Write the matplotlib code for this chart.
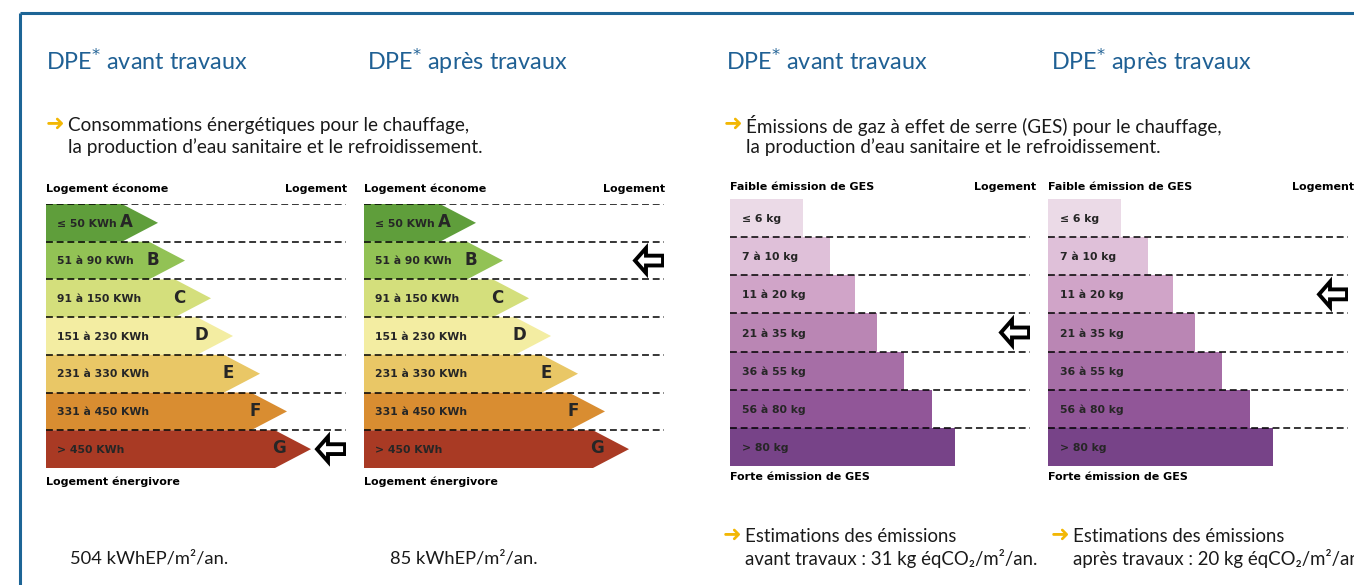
import matplotlib
matplotlib.use("Agg")
import matplotlib.pyplot as plt
from matplotlib.patches import Polygon, Rectangle
import numpy as np

# --- data ---
energy_classes = ["A", "B", "C", "D", "E", "F", "G"]
energy_ranges = ["≤ 50 KWh", "51 à 90 KWh", "91 à 150 KWh", "151 à 230 KWh",
                 "231 à 330 KWh", "331 à 450 KWh", "> 450 KWh"]
energy_upper = [50, 90, 150, 230, 330, 450, np.inf]
energy_bar_len = [112, 139, 165, 187, 214, 241, 265]
energy_colors = ["#5f9e3b", "#92c255", "#d4df7c", "#f3eda2", "#e9c766", "#d98d31", "#a93a24"]

ges_ranges = ["≤ 6 kg", "7 à 10 kg", "11 à 20 kg", "21 à 35 kg",
              "36 à 55 kg", "56 à 80 kg", "> 80 kg"]
ges_upper = [6, 10, 20, 35, 55, 80, np.inf]
ges_bar_len = [73, 100, 125, 147, 174, 202, 225]
ges_colors = ["#ebdae7", "#dfc0d9", "#d0a4c8", "#ba86b4", "#a66ea6", "#915698", "#774388"]

energy_before, energy_after = 504, 85
ges_before, ges_after = 31, 20

titles = ["DPE$^{*}$ avant travaux", "DPE$^{*}$ après travaux"]

W, H = 1354, 585
BLUE = "#1f6094"
ORANGE = "#f2b705"
TXT = ["Lato", "DejaVu Sans"]

fig = plt.figure(figsize=(W / 100, H / 100), dpi=100)
bg = fig.add_axes([0, 0, 1, 1])
bg.set_xlim(0, W)
bg.set_ylim(H, 0)
bg.axis("off")

# blue frame
bg.plot([20, W], [13, 13], color="#1d6596", lw=2.2, solid_capstyle="butt")
bg.plot([20, 20], [13, H], color="#1d6596", lw=2.2, solid_capstyle="butt")


def px_axes(left, top, bottom, width=300):
    ax = fig.add_axes([left / W, (H - bottom) / H, width / W, (bottom - top) / H])
    ax.set_xlim(0, width)
    ax.set_ylim(7, 0)
    ax.axis("off")
    return ax


def row_of(value, uppers):
    return int(np.searchsorted(uppers, value))


def pointer(ax, row):
    yc = row + 0.5
    x0 = 271
    pts = [(x0, yc), (x0 + 11, yc - 0.33), (x0 + 11, yc - 0.13), (x0 + 28, yc - 0.13),
           (x0 + 28, yc + 0.13), (x0 + 11, yc + 0.13), (x0 + 11, yc + 0.33)]
    ax.add_patch(Polygon(pts, closed=True, fc="white", ec="black", lw=2.8,
                         joinstyle="miter", zorder=5))


def dashes(ax, rows):
    for r in rows:
        ax.plot([0, 300], [r, r], color="black", lw=1.1, ls=(0, (4.5, 2.5)), zorder=4)


def energy_chart(left, value):
    ax = px_axes(left, 204, 468)
    for i, (L, c) in enumerate(zip(energy_bar_len, energy_colors)):
        d = 36
        pts = [(0, i), (L - d, i), (L, i + 0.5), (L - d, i + 1), (0, i + 1)]
        ax.add_patch(Polygon(pts, closed=True, fc=c, ec="none", zorder=2))
        ax.text(11, i + 0.52, energy_ranges[i], ha="left", va="center",
                fontsize=7.8, fontweight="bold", color="#262626", zorder=3)
        ax.text(L - 32, i + 0.48, energy_classes[i], ha="center", va="center",
                fontsize=12, fontweight="bold", color="#262626", zorder=3)
    dashes(ax, range(0, 7))
    ax.text(0, -0.4, "Logement économe", ha="left", va="center", fontsize=8,
            fontweight="heavy", color="black", clip_on=False)
    ax.text(301, -0.4, "Logement", ha="right", va="center", fontsize=8,
            fontweight="heavy", color="black", clip_on=False)
    ax.text(0, 7.37, "Logement énergivore", ha="left", va="center", fontsize=8,
            fontweight="heavy", color="black", clip_on=False)
    pointer(ax, row_of(value, energy_upper))


def ges_chart(left, value):
    ax = px_axes(left, 199, 466)
    for i, (L, c) in enumerate(zip(ges_bar_len, ges_colors)):
        ax.add_patch(Rectangle((0, i), L, 1, fc=c, ec="none", zorder=2))
        ax.text(12, i + 0.52, ges_ranges[i], ha="left", va="center",
                fontsize=7.8, fontweight="bold", color="#262626", zorder=3)
    dashes(ax, range(1, 7))
    ax.text(0, -0.32, "Faible émission de GES", ha="left", va="center", fontsize=8,
            fontweight="heavy", color="black", clip_on=False)
    ax.text(306, -0.32, "Logement", ha="right", va="center", fontsize=8,
            fontweight="heavy", color="black", clip_on=False)
    ax.text(0, 7.29, "Forte émission de GES", ha="left", va="center", fontsize=8,
            fontweight="heavy", color="black", clip_on=False)
    pointer(ax, row_of(value, ges_upper))


energy_chart(46, energy_before)
energy_chart(364, energy_after)
ges_chart(730, ges_before)
ges_chart(1048, ges_after)

# titles
for x, t in zip([46, 367, 726, 1051], titles * 2):
    bg.text(x, 61, t, ha="left", va="center", fontsize=16.8, color=BLUE, family=TXT)


# subtitles
def arrow_text(x, y, lines, size=13.6):
    bg.text(x, y - 1, "➜", ha="left", va="center", fontsize=16, color=ORANGE,
            family=["DejaVu Sans"])
    for k, line in enumerate(lines):
        bg.text(x + 22, y + 22 * k, line, ha="left", va="center", fontsize=size,
                color="#1a1a1a", family=TXT)


arrow_text(46, 125, ["Consommations énergétiques pour le chauffage,",
                     "la production d’eau sanitaire et le refroidissement."])
arrow_text(724, 125, ["Émissions de gaz à effet de serre (GES) pour le chauffage,",
                      "la production d’eau sanitaire et le refroidissement."])

bg.text(70, 558, f"{energy_before} kWhEP/m²/an.", ha="left", va="center",
        fontsize=13.2, color="#1a1a1a", family=TXT)
bg.text(390, 558, f"{energy_after} kWhEP/m²/an.", ha="left", va="center",
        fontsize=13.2, color="#1a1a1a", family=TXT)
arrow_text(723, 536, ["Estimations des émissions",
                      f"avant travaux : {ges_before} kg éqCO₂/m²/an."], size=13.4)
arrow_text(1051, 536, ["Estimations des émissions",
                       f"après travaux : {ges_after} kg éqCO₂/m²/an."], size=13.4)

fig.savefig("out.png", dpi=100, facecolor="white")
